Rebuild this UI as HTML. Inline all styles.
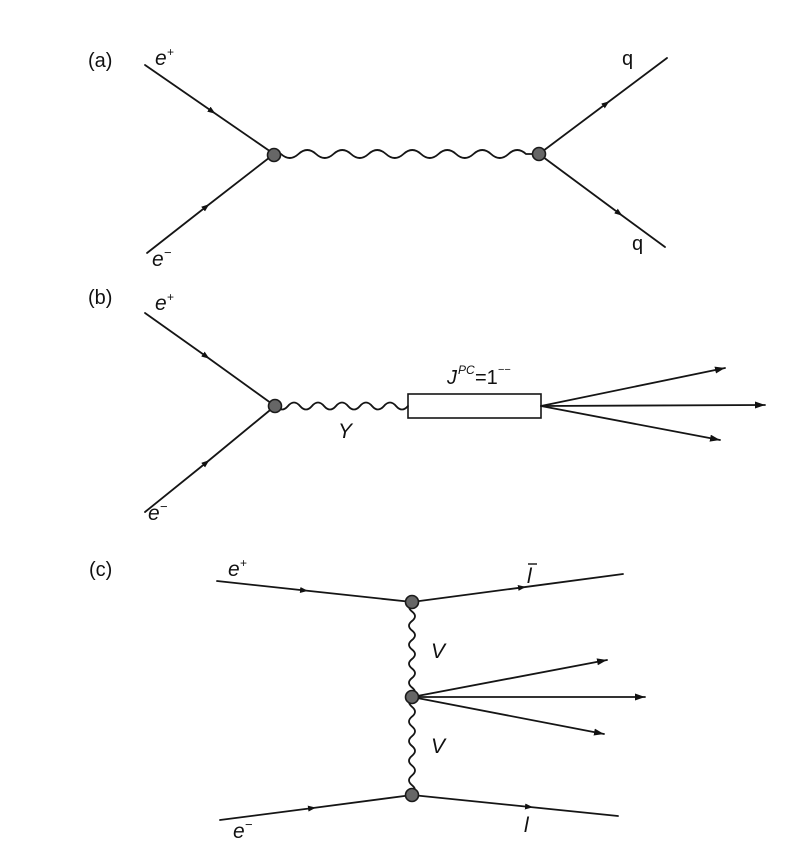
<!DOCTYPE html>
<html>
<head>
<meta charset="utf-8">
<style>
html,body{margin:0;padding:0;background:#fff;}
svg{display:block;}
text{font-family:"Liberation Sans",Arial,sans-serif;fill:#111;}
.it{font-style:italic;}
</style>
</head>
<body>
<svg width="788" height="843" viewBox="0 0 788 843" xmlns="http://www.w3.org/2000/svg">
<defs>
<marker id="ar" markerUnits="userSpaceOnUse" markerWidth="12" markerHeight="8" refX="10" refY="3.5" orient="auto">
<path d="M0,0 L10,3.5 L0,7 z" fill="#111"/>
</marker>
<marker id="am" markerUnits="userSpaceOnUse" markerWidth="12" markerHeight="8" refX="5" refY="3" orient="auto">
<path d="M0,0 L8,3 L0,6 z" fill="#111"/>
</marker>
</defs>
<g stroke="#151515" stroke-width="1.8" fill="none" stroke-linecap="round">
<!-- (a) -->
<path d="M145,65 L213,112" marker-end="url(#am)"/>
<path d="M213,112 L274,154"/>
<path d="M147,253 L207,206" marker-end="url(#am)"/>
<path d="M207,206 L274,154"/>
<path d="M539,154 L607,103" marker-end="url(#am)"/>
<path d="M607,103 L667,58"/>
<path d="M539,154 L620,214" marker-end="url(#am)"/>
<path d="M620,214 L665,247"/>
<path d="M274,154 L281,154 q8.75,8 17.5,0 t17.5,0 t17.5,0 t17.5,0 t17.5,0 t17.5,0 t17.5,0 t17.5,0 t17.5,0 t17.5,0 t17.5,0 t17.5,0 t17.5,0 t17.5,0 L539,154"/>
<!-- (b) -->
<path d="M145,313 L207,357" marker-end="url(#am)"/>
<path d="M207,357 L275,406"/>
<path d="M145,512 L207,462" marker-end="url(#am)"/>
<path d="M207,462 L275,406"/>
<path d="M276,406 q6,7 12,0 t12,0 t12,0 t12,0 t12,0 t12,0 t12,0 t12,0 t12,0 t12,0 t12,0"/>
<rect x="408" y="394" width="133" height="24" stroke-width="1.6"/>
<path d="M541,406 L725,368" marker-end="url(#ar)"/>
<path d="M541,406 L765,405" marker-end="url(#ar)"/>
<path d="M541,406 L720,440" marker-end="url(#ar)"/>
<!-- (c) -->
<path d="M217,581 L305,590.5" marker-end="url(#am)"/>
<path d="M305,590.5 L412,602"/>
<path d="M412,602 L523,587.3" marker-end="url(#am)"/>
<path d="M523,587.3 L623,574"/>
<path d="M220,820 L313,808" marker-end="url(#am)"/>
<path d="M313,808 L412,795"/>
<path d="M412,795 L530,807" marker-end="url(#am)"/>
<path d="M530,807 L618,816"/>
<path d="M412,697 L607,660" marker-end="url(#ar)"/>
<path d="M412,697 L645,697" marker-end="url(#ar)"/>
<path d="M412,697 L604,734" marker-end="url(#ar)"/>
<path d="M412,602 q-6,4.75 0,9.5 t0,9.5 t0,9.5 t0,9.5 t0,9.5 t0,9.5 t0,9.5 t0,9.5 t0,9.5 t0,9.5"/>
<path d="M412,697 q-6,4.9 0,9.8 t0,9.8 t0,9.8 t0,9.8 t0,9.8 t0,9.8 t0,9.8 t0,9.8 t0,9.8 t0,9.8"/>
</g>
<g fill="#666" stroke="#1a1a1a" stroke-width="1.6">
<circle cx="274" cy="155" r="6.5"/>
<circle cx="539" cy="154" r="6.5"/>
<circle cx="275" cy="406" r="6.5"/>
<circle cx="412" cy="602" r="6.5"/>
<circle cx="412" cy="697" r="6.5"/>
<circle cx="412" cy="795" r="6.5"/>
</g>
<!-- labels -->
<text x="88" y="67" font-size="20">(a)</text>
<text x="155" y="65" font-size="21" class="it">e</text>
<text x="167" y="56" font-size="12">+</text>
<text x="152" y="266" font-size="21" class="it">e</text>
<text x="164" y="257" font-size="13">−</text>
<text x="622" y="65" font-size="20">q</text>
<text x="632" y="250" font-size="20">q</text>

<text x="88" y="304" font-size="20">(b)</text>
<text x="155" y="310" font-size="21" class="it">e</text>
<text x="167" y="301" font-size="12">+</text>
<text x="148" y="520" font-size="21" class="it">e</text>
<text x="160" y="511" font-size="13">−</text>
<text x="338" y="438" font-size="21" class="it">Y</text>
<text x="447" y="384" font-size="20" class="it">J</text>
<text x="458" y="374" font-size="12" class="it">PC</text>
<text x="475" y="384" font-size="20">=1</text>
<text x="498" y="373" font-size="11">−−</text>

<text x="89" y="576" font-size="20">(c)</text>
<text x="228" y="576" font-size="21" class="it">e</text>
<text x="240" y="567" font-size="12">+</text>
<text x="431" y="658" font-size="21" class="it">V</text>
<text x="431" y="753" font-size="21" class="it">V</text>
<text x="527" y="583" font-size="21" class="it">l</text>
<line x1="528" y1="564" x2="537" y2="564" stroke="#111" stroke-width="1.4"/>
<text x="524" y="832" font-size="21" class="it">l</text>
<text x="233" y="838" font-size="21" class="it">e</text>
<text x="245" y="829" font-size="13">−</text>
</svg>
</body>
</html>
